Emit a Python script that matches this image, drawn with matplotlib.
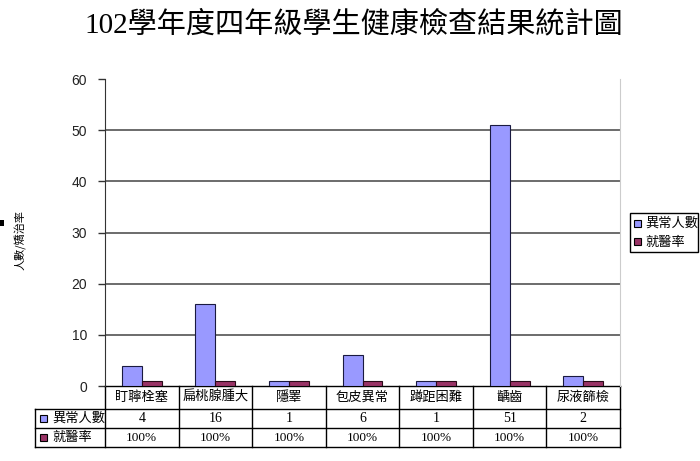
import matplotlib
matplotlib.use('Agg')
import matplotlib.pyplot as plt
import matplotlib.transforms as mtransforms
from matplotlib.patches import Rectangle
import numpy as np

plt.rcParams['font.family'] = ['Noto Sans CJK TC', 'DejaVu Sans']

# data
categories = ['盯聹栓塞', '扁桃腺腫大', '隱睪', '包皮異常', '蹲距困難', '齲齒', '尿液篩檢']
abnormal = [4, 16, 1, 6, 1, 51, 2]
rate = [1.0, 1.0, 1.0, 1.0, 1.0, 1.0, 1.0]
rate_labels = ['100%'] * 7
series_names = ['異常人數', '就醫率']
colors = ['#9999FF', '#993366']
yticks = [0, 10, 20, 30, 40, 50, 60]

W, H = 700, 461
fig = plt.figure(figsize=(7, 4.61), dpi=100)

# plot area in pixels: x 105..620, y 79..386
ax = fig.add_axes([105 / W, 1 - 386 / H, 515 / W, 307 / H])
x = np.arange(len(categories))
bw = 0.27
ax.bar(x - bw / 2, abnormal, bw, color=colors[0], edgecolor='#1a1a40', linewidth=0.8, zorder=3)
ax.bar(x + bw / 2, rate, bw, color=colors[1], edgecolor='#2a0a18', linewidth=0.8, zorder=3)
ax.set_xlim(-0.5, len(categories) - 0.5)
ax.set_ylim(0, 60)
ax.set_yticks(yticks)
ax.set_yticklabels([str(v) for v in yticks], family='Liberation Sans', fontsize=10, color='#222222')
ax.tick_params(axis='y', length=5, width=1, pad=8, color='#333333')
ax.set_xticks([])
for v in yticks[1:-1]:
    ax.axhline(v, color='#444444', lw=1.1, zorder=1)
for s in ['top', 'bottom']:
    ax.spines[s].set_visible(False)
ax.spines['left'].set_color('#333333')
ax.spines['right'].set_color('#cccccc')

# data table under the axis
trans = mtransforms.blended_transform_factory(ax.transData, ax.transAxes)
px = 1 / 307
rows_y = [0, -23 * px, -42 * px, -61 * px]
left_lab = -0.5 - 70 / (515 / 7)
right = len(categories) - 0.5
line_kw = dict(color='black', lw=1, transform=trans, clip_on=False)
ax.plot([-0.5, right], [rows_y[0], rows_y[0]], **line_kw)
for yy in rows_y[1:]:
    ax.plot([left_lab, right], [yy, yy], **line_kw)
ax.plot([left_lab, left_lab], [rows_y[1], rows_y[3]], **line_kw)
for i in range(len(categories) + 1):
    ax.plot([i - 0.5, i - 0.5], [rows_y[0], rows_y[3]], **line_kw)

def mid(a, b):
    return (a + b) / 2

for i, c in enumerate(categories):
    ax.text(i, mid(rows_y[0], rows_y[1]), c, transform=trans, ha='center', va='center', fontsize=9.5)
    ax.text(i, mid(rows_y[1], rows_y[2]), str(abnormal[i]), transform=trans, ha='center', va='center',
            fontsize=10, family='Liberation Serif')
    ax.text(i, mid(rows_y[2], rows_y[3]), rate_labels[i], transform=trans, ha='center', va='center',
            fontsize=9.5, family='Liberation Serif')

# row labels with colour keys
sq = 7 / (515 / 7)
for r, (name, col) in enumerate(zip(series_names, colors)):
    yc = mid(rows_y[r + 1], rows_y[r + 2])
    ax.add_patch(Rectangle((left_lab + 5 / (515 / 7), yc - 3.5 * px), sq, 7 * px, transform=trans,
                           facecolor=col, edgecolor='black', lw=0.8, clip_on=False))
    ax.text(left_lab + 17 / (515 / 7), yc, name, transform=trans, ha='left', va='center', fontsize=9.5)

# legend box at right
fig.patches.append(Rectangle((630 / W, 1 - 252 / H), 68 / W, 39 / H, transform=fig.transFigure,
                             facecolor='white', edgecolor='black', lw=1))
for k, (name, col) in enumerate(zip(series_names, colors)):
    yc = 1 - (223 + k * 19) / H
    fig.patches.append(Rectangle((634 / W, yc - 3.5 / H), 7 / W, 7 / H, transform=fig.transFigure,
                                 facecolor=col, edgecolor='black', lw=0.8))
    fig.text(645 / W, yc, name, ha='left', va='center', fontsize=9.5)

# y label and title
fig.text(20 / W, 1 - 240 / H, '人數/矯治率', rotation=90, ha='center', va='center', fontsize=8)
fig.patches.append(Rectangle((0, 1 - 226 / H), 4 / W, 6 / H, transform=fig.transFigure,
                             facecolor='black', edgecolor='none'))
fig.text(354 / W, 1 - 25 / H, '102學年度四年級學生健康檢查結果統計圖', ha='center', va='center',
         fontsize=21, fontweight='light', family=['Liberation Serif', 'Noto Sans CJK TC'])

fig.savefig('out.png', dpi=100)
